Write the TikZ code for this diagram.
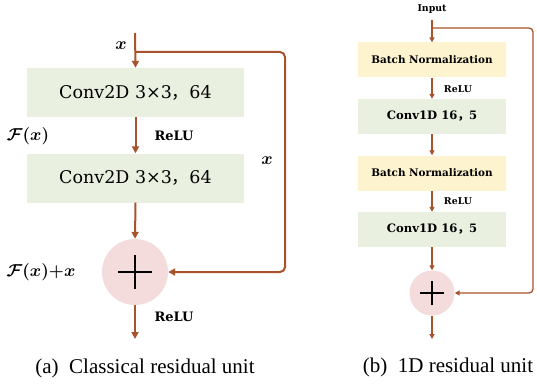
\documentclass[tikz,border=0pt]{standalone}
\usepackage{amsmath}
\usepackage{fontspec}
\setmainfont{Liberation Serif}
\newfontfamily\boxfont{DejaVu Serif}
\newfontfamily\cjk{Noto Sans CJK SC}
\usetikzlibrary{arrows.meta}
\definecolor{flow}{HTML}{A8532B}
\definecolor{convfill}{HTML}{E9F0E0}
\definecolor{bnfill}{HTML}{FDF3CE}
\definecolor{addfill}{HTML}{F3DCDB}
\tikzset{
  flowa/.style={draw=flow, line width=2pt, -{Triangle[length=7pt,width=7pt]}},
  flowb/.style={draw=flow, line width=1.3pt, -{Triangle[length=5pt,width=5pt]}},
  bigbox/.style={fill=convfill, minimum width=217pt, minimum height=49pt, inner sep=0pt,
    font=\boxfont\fontsize{17.5}{20}\selectfont},
  convbox/.style={fill=convfill, minimum width=148pt, minimum height=35pt, inner sep=0pt,
    font=\boxfont\bfseries\fontsize{11.6}{14}\selectfont},
  bnbox/.style={convbox, fill=bnfill, font=\boxfont\bfseries\fontsize{10.4}{12}\selectfont},
  lab/.style={font=\boxfont\bfseries\fontsize{13}{15}\selectfont, inner sep=0pt},
  smalllab/.style={font=\boxfont\bfseries\fontsize{9.4}{11}\selectfont, inner sep=0pt},
  mathlab/.style={font=\fontsize{16}{19}\selectfont, inner sep=0pt},
  xlab/.style={font=\fontsize{19}{22}\selectfont, inner sep=0pt},
  caption/.style={font=\fontsize{21}{24}\selectfont, inner sep=0pt},
}
\begin{document}
\begin{tikzpicture}[x=1pt,y=-1pt]
\useasboundingbox (0,0) rectangle (537,385);

% ---------- (a) classical residual unit ----------
\coordinate (ain) at (135,33);
\coordinate (asplit) at (135,52);
\node[bigbox] (ac1) at (135.5,92.5) {Conv2D 3×3{\cjk ，}64};
\node[bigbox] (ac2) at (135.5,178) {Conv2D 3×3{\cjk ，}64};
\node[circle, fill=addfill, minimum size=66pt, inner sep=0pt] (aadd) at (135,272) {};
\draw[line width=2.6pt, line cap=butt] ([xshift=-17pt]aadd.center) -- ([xshift=17pt]aadd.center);
\draw[line width=2.6pt, line cap=butt] ([yshift=-17pt]aadd.center) -- ([yshift=17pt]aadd.center);
\coordinate (aout) at (135,339);
\coordinate (acorner) at (285,52);

\draw[flowa] (ain) -- (ac1.north);
\draw[flowa] (ac1.south) -- (ac2.north);
\draw[flowa] (ac2.south) -- (aadd.north);
\draw[flowa] (aadd.south) -- (aout);
\draw[flowa, rounded corners=5pt] (asplit) -- (acorner) |- (aadd.east);

\node[xlab] (ax) at (121,46) {$\boldsymbol{x}$};
\node[mathlab] (afx) at (28,136) {$\boldsymbol{\mathcal{F}(x)}$};
\node[lab] (arelu1) at (174,136) {ReLU};
\node[xlab] (ax2) at (267,161) {$\boldsymbol{x}$};
\node[mathlab] (afxx) at (41,272) {$\boldsymbol{\mathcal{F}(x){+}x}$};
\node[lab] (arelu2) at (174,317) {ReLU};
\node[caption] (acap) at (145,368) {(a)\ \ Classical residual unit};

% ---------- (b) 1D residual unit ----------
\node[smalllab] (binput) at (432,9) {Input};
\coordinate (bin) at (432,20);
\coordinate (bsplit) at (432,28);
\coordinate (bcorner) at (533,28);
\node[bnbox] (bbn1) at (432,60) {Batch Normalization};
\node[convbox] (bcv1) at (432,116.5) {Conv1D 16{\cjk ，}5};
\node[bnbox] (bbn2) at (432,173) {Batch Normalization};
\node[convbox] (bcv2) at (432,229.5) {Conv1D 16{\cjk ，}5};
\node[circle, fill=addfill, minimum size=45pt, inner sep=0pt] (badd) at (432,293) {};
\draw[line width=1.5pt] ([xshift=-12pt]badd.center) -- ([xshift=12pt]badd.center);
\draw[line width=1.5pt] ([yshift=-12pt]badd.center) -- ([yshift=12pt]badd.center);
\coordinate (bout) at (432,339);

\draw[flowb] (bin) -- (bbn1.north);
\draw[flowb] (bbn1.south) -- (bcv1.north);
\draw[flowb] (bcv1.south) -- (bbn2.north);
\draw[flowb] (bbn2.south) -- (bcv2.north);
\draw[flowb] (bcv2.south) -- (badd.north);
\draw[flowb] (badd.south) -- (bout);
\draw[flowb, rounded corners=4pt] (bsplit) -- (bcorner) |- (badd.east);

\node[smalllab] (brelu1) at (458,89) {ReLU};
\node[smalllab] (brelu2) at (458,201) {ReLU};
\node[caption] (bcap) at (448,367) {(b)\ \ 1D residual unit};
\end{tikzpicture}
\end{document}
